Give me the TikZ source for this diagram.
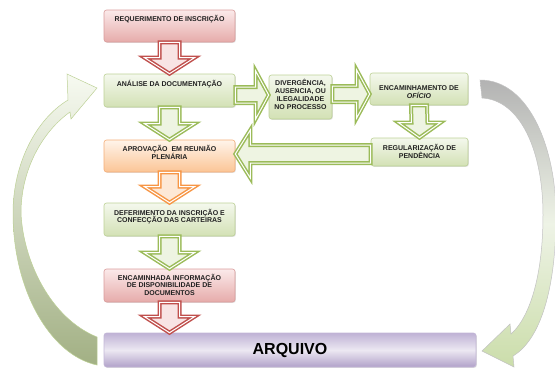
\documentclass[tikz,border=0pt]{standalone}
\usepackage{fontspec}
\setmainfont{Liberation Sans}
\usetikzlibrary{calc,shadows}
\definecolor{pinkTop}{HTML}{FBEAEA}
\definecolor{pinkBot}{HTML}{E6ABAA}
\definecolor{pinkBorder}{HTML}{D99C9B}
\definecolor{greenTop}{HTML}{F4F8ED}
\definecolor{greenBot}{HTML}{D3E1B5}
\definecolor{greenBorder}{HTML}{BDD196}
\definecolor{orangeTop}{HTML}{FFF4EA}
\definecolor{orangeBot}{HTML}{FBC596}
\definecolor{orangeBorder}{HTML}{F4AE78}
\definecolor{purpTop}{HTML}{BFB2D5}
\definecolor{purpMid}{HTML}{ECE8F2}
\definecolor{purpBot}{HTML}{B1A1C9}
\definecolor{purpBorder}{HTML}{C3B7D7}
\definecolor{arrRed}{HTML}{C0504D}
\definecolor{arrRedFill}{HTML}{F8E4E4}
\definecolor{arrGreen}{HTML}{9BBB59}
\definecolor{arrGreenFill}{HTML}{EEF4E2}
\definecolor{arrOrange}{HTML}{F79646}
\definecolor{arrOrangeFill}{HTML}{FDE8D6}
\definecolor{txt}{HTML}{222222}
\definecolor{arcLTop}{HTML}{F7FAF1}
\definecolor{arcLBot}{HTML}{A2B084}
\definecolor{arcRTop}{HTML}{B3B3B3}
\definecolor{arcRMid}{HTML}{EEF3E6}
\definecolor{arcRBot}{HTML}{CBDDAA}
\newcommand{\bt}[4]{\parbox[c][#2][t]{#1}{\centering\rule{0pt}{#3}#4\par}}
\newcommand{\vblock}[6]{\draw[#6] ($(#1)+(-#3,0)$) -- ($(#2)+(-#3,-#5)$) -- ($(#2)+(-#4,-#5)$) -- (#2) -- ($(#2)+(#4,-#5)$) -- ($(#2)+(#3,-#5)$) -- ($(#1)+(#3,0)$) -- cycle;}
\begin{document}
\begin{tikzpicture}[x=1pt,y=-1pt,
  box/.style={rectangle, rounded corners=2.5pt, inner sep=0pt, line width=0.6pt,
    font=\fontsize{7}{7.8}\selectfont\bfseries, text=txt,
    drop shadow={shadow xshift=0.8pt, shadow yshift=-0.8pt, opacity=0.25}},
  pinkbox/.style={box, draw=pinkBorder, top color=pinkTop, bottom color=pinkBot},
  greenbox/.style={box, draw=greenBorder, top color=greenTop, bottom color=greenBot},
  orangebox/.style={box, draw=orangeBorder, top color=orangeTop, bottom color=orangeBot},
  purpbox/.style={box, draw=purpBorder, top color=purpTop, bottom color=purpBot, middle color=purpMid},
  blk/.style={line width=1.5pt, double=white, double distance=1pt, line join=miter},
  redarrow/.style={blk, draw=arrRed, fill=arrRedFill},
  greenarrow/.style={blk, draw=arrGreen, fill=arrGreenFill},
  orangearrow/.style={blk, draw=arrOrange, fill=arrOrangeFill},
  leftarc/.style={draw=greenBorder, line width=0.5pt, top color=arcLTop, bottom color=arcLBot},
  rightarc/.style={draw=arcRTop!80!white, line width=0.5pt, top color=arcRTop, bottom color=arcRBot, middle color=arcRMid}
]
\useasboundingbox (0,0) rectangle (555,368);

% curved return arrows
\path[leftarc] (97,365) .. controls (50,355) and (13,290) .. (13,213)
  .. controls (13,165) and (35,120) .. (68,100) -- (67,74) -- (97,88) -- (71,119) -- (70,112)
  .. controls (42,132) and (21,170) .. (21,213)
  .. controls (23,260) and (50,318) .. (97,337) -- cycle;
\path[rightarc] (480,80) .. controls (530,80) and (556,150) .. (556,215)
  .. controls (556,290) and (540,340) .. (513,356) -- (514,367) -- (482,351) -- (510,324) -- (511,334)
  .. controls (532,315) and (543,270) .. (543,215)
  .. controls (543,150) and (520,100) .. (482,98) -- cycle;

% boxes
\node[pinkbox, minimum width=131pt, minimum height=32pt] (req) at (169.5,26)
  {\bt{131pt}{32pt}{11.7pt}{REQUERIMENTO DE INSCRIÇÃO}};
\node[greenbox, minimum width=131pt, minimum height=33pt] (ana) at (169.5,90.5)
  {\bt{131pt}{33pt}{12pt}{ANÁLISE DA DOCUMENTAÇÃO}};
\node[greenbox, minimum width=63pt, minimum height=44pt] (div) at (300.5,97)
  {\bt{63pt}{44pt}{10.7pt}{DIVERGÊNCIA,\\AUSENCIA, OU\\ILEGALIDADE\\NO PROCESSO}};
\node[greenbox, minimum width=98pt, minimum height=32pt] (enc) at (419,89)
  {\bt{98pt}{32pt}{17.5pt}{ENCAMINHAMENTO DE\\\textit{OFÍCIO}}};
\node[greenbox, minimum width=97pt, minimum height=28pt] (reg) at (419.5,152)
  {\bt{97pt}{28pt}{12.5pt}{REGULARIZAÇÃO DE\\PENDÊNCIA}};
\node[orangebox, minimum width=131pt, minimum height=32pt] (apr) at (169.5,156)
  {\bt{131pt}{32pt}{11.7pt}{APROVAÇÃO\ \ EM REUNIÃO\\PLENÁRIA}};
\node[greenbox, minimum width=131pt, minimum height=33pt] (def) at (169.5,219.5)
  {\bt{131pt}{33pt}{12pt}{DEFERIMENTO DA INSCRIÇÃO E\\CONFECÇÃO DAS CARTEIRAS}};
\node[pinkbox, minimum width=131pt, minimum height=33pt] (inf) at (169.5,285.5)
  {\bt{131pt}{33pt}{11pt}{ENCAMINHADA INFORMAÇÃO\\DE DISPONIBILIDADE DE\\DOCUMENTOS}};
\node[purpbox, minimum width=372pt, minimum height=34pt, font=\fontsize{16}{18}\selectfont\bfseries, text=black] (arq) at (290,350) {ARQUIVO};

% connector end points
\coordinate (arqtop) at (inf.south |- arq.north);
\coordinate (h1s) at (ana.east |- 0,95);
\coordinate (h1t) at (div.west |- 0,95);
\coordinate (h2s) at (div.east |- 0,94);
\coordinate (h2t) at (enc.west |- 0,94);
\coordinate (h3s) at (reg.west |- 0,154);
\coordinate (h3t) at (apr.east |- 0,154);

% vertical block arrows
\vblock{req.south}{ana.north}{10}{25}{16}{redarrow}
\vblock{ana.south}{apr.north}{10}{25}{16}{greenarrow}
\vblock{apr.south}{def.north}{10}{25}{16}{orangearrow}
\vblock{def.south}{inf.north}{10}{25}{16}{greenarrow}
\vblock{inf.south}{arqtop}{10}{25}{16}{redarrow}
\vblock{enc.south}{reg.north}{8}{21}{15}{greenarrow}

% horizontal block arrows
\draw[greenarrow] ($(h1s)+(0,-8)$) -- ($(h1t)+(-13,-8)$) -- ($(h1t)+(-13,-24)$) -- (h1t)
  -- ($(h1t)+(-13,24)$) -- ($(h1t)+(-13,8)$) -- ($(h1s)+(0,8)$) -- cycle;
\draw[greenarrow] ($(h2s)+(0,-8)$) -- ($(h2t)+(-13,-8)$) -- ($(h2t)+(-13,-24)$) -- (h2t)
  -- ($(h2t)+(-13,24)$) -- ($(h2t)+(-13,8)$) -- ($(h2s)+(0,8)$) -- cycle;
\draw[greenarrow] ($(h3s)+(0,-9)$) -- ($(h3t)+(15,-9)$) -- ($(h3t)+(15,-24)$) -- (h3t)
  -- ($(h3t)+(15,24)$) -- ($(h3t)+(15,9)$) -- ($(h3s)+(0,9)$) -- cycle;
\end{tikzpicture}
\end{document}
